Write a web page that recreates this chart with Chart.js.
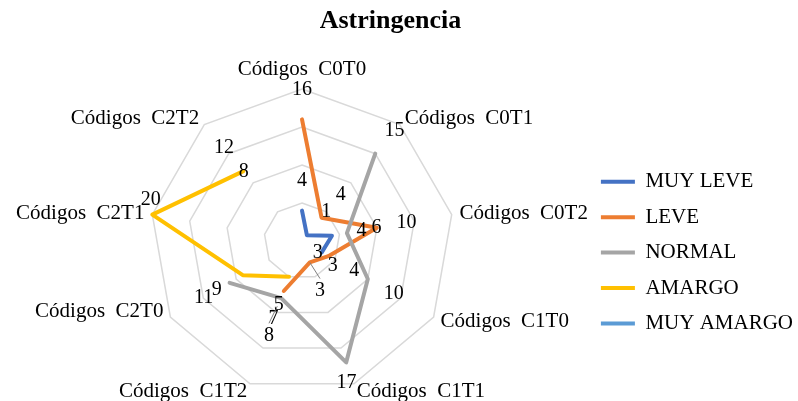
<!DOCTYPE html>
<html>
<head>
<meta charset="utf-8">
<script src="https://cdn.jsdelivr.net/npm/chart.js@4.4.1/dist/chart.umd.min.js"></script>
<style>
html,body{margin:0;padding:0;background:#ffffff;}
#wrap{width:798px;height:401px;}
</style>
</head>
<body>
<div id="wrap"><canvas id="c" width="798" height="401"></canvas></div>
<script>
// ---- data ----
const categories = ['Códigos  C0T0','Códigos  C0T1','Códigos  C0T2','Códigos  C1T0','Códigos  C1T1','Códigos  C1T2','Códigos  C2T0','Códigos  C2T1','Códigos  C2T2'];
const seriesNames = ['MUY LEVE','LEVE','NORMAL','AMARGO','MUY AMARGO'];
const muyLeve   = [4, 1, 4, 3, null, null, null, null, null];
const leve      = [16, 4, 10, 4, 3, 7, null, null, null];
const normal    = [null, 15, 6, 10, 17, 8, 11, null, null];
const amargo    = [null, null, null, 3, null, 5, 9, 20, 12];
const muyAmargo = [null, null, null, null, null, null, null, null, 8];
const scaleTicks = [0, 5, 10, 15, 20];

// ---- styles ----
const FONT = "'Liberation Serif', 'Times New Roman', serif";
const colors = ['#4472C4', '#ED7D31', '#A5A5A5', '#FFC000', '#5B9BD5'];
const seriesData = [muyLeve, leve, normal, amargo, muyAmargo];
// manual nudges for data labels that were moved in the original ("dataset:index": [dx, dy])
const labelNudges = {'3:7': [28, -10], '0:3': [-30, -15], '3:3': [-15, -2], '2:4': [-10, -8], '2:5': [-2, 9]};
const leaderLines = ['1:4', '2:5'];
const categoryNudges = {6: [0, -9.5]};
const titleShift = -20;

const titleOffset = {
  id: 'titleOffset',
  afterLayout(chart) {
    const t = chart.titleBlock;
    if (t) { t.left += titleShift; t.right += titleShift; }
  }
};

const categoryLabels = {
  id: 'categoryLabels',
  beforeDatasetsDraw(chart) {
    const ctx = chart.ctx, scale = chart.scales.r;
    ctx.save();
    ctx.font = '21px ' + FONT;
    ctx.fillStyle = '#000';
    ctx.textBaseline = 'middle';
    categories.forEach((txt, i) => {
      const p = scale.getPointPosition(i, scale.drawingArea + 8);
      const ang = scale.getIndexAngle(i) - Math.PI / 2;
      const c = Math.cos(ang), s = Math.sin(ang);
      ctx.textAlign = c > 0.1 ? 'left' : (c < -0.1 ? 'right' : 'center');
      let y = p.y;
      if (s < -0.95) y -= 12;
      const n = categoryNudges[i] || [0, 0];
      ctx.fillText(txt, p.x + n[0], y + n[1]);
    });
    ctx.restore();
  }
};

const valueLabels = {
  id: 'valueLabels',
  afterDatasetsDraw(chart) {
    const ctx = chart.ctx, scale = chart.scales.r;
    ctx.save();
    ctx.font = '20px ' + FONT;
    ctx.textAlign = 'center';
    ctx.textBaseline = 'middle';
    chart.data.datasets.forEach((ds, di) => {
      ds.data.forEach((v, i) => {
        if (v === null || v === undefined) return;
        const pt = scale.getPointPositionForValue(i, v);
        const ang = scale.getIndexAngle(i) - Math.PI / 2;
        const key = di + ':' + i;
        const n = labelNudges[key] || [0, 0];
        const lx = pt.x + 30 * Math.cos(ang) + n[0];
        const ly = pt.y + 30 * Math.sin(ang) + n[1];
        if (leaderLines.includes(key)) {
          const ex = lx, ey = ly - 12;
          const dx = ex - pt.x, dy = ey - pt.y;
          const d = Math.hypot(dx, dy);
          const L = Math.min(d, 19);
          ctx.strokeStyle = '#7F7F7F';
          ctx.lineWidth = 1;
          ctx.beginPath();
          ctx.moveTo(ex - dx / d * L, ey - dy / d * L);
          ctx.lineTo(ex, ey);
          ctx.stroke();
        }
        ctx.fillStyle = '#000';
        ctx.fillText(String(v), lx, ly);
      });
    });
    ctx.restore();
  }
};

const datasets = seriesNames.map((name, k) => ({
  label: name,
  data: seriesData[k],
  borderColor: colors[k],
  backgroundColor: colors[k],
  borderWidth: 4,
  pointRadius: 0,
  pointHoverRadius: 0,
  pointHitRadius: 0,
  borderJoinStyle: 'round',
  borderCapStyle: 'round',
  fill: false,
  spanGaps: false,
  tension: 0,
  order: seriesNames.length - k
}));

new Chart(document.getElementById('c'), {
  type: 'radar',
  data: {labels: categories, datasets: datasets},
  plugins: [titleOffset, categoryLabels, valueLabels],
  options: {
    responsive: false,
    animation: false,
    events: [],
    layout: {padding: {left: 18, right: -5, top: 0, bottom: 7}, autoPadding: false},
    scales: {
      r: {
        min: scaleTicks[0],
        max: scaleTicks[scaleTicks.length - 1],
        ticks: {display: false, stepSize: scaleTicks[1] - scaleTicks[0]},
        grid: {color: '#D9D9D9', lineWidth: 1.5},
        angleLines: {display: false},
        pointLabels: {display: false}
      }
    },
    plugins: {
      title: {
        display: true,
        text: 'Astringencia',
        color: '#000',
        font: {family: FONT, size: 26, weight: 'bold'},
        padding: {top: 6, bottom: 51}
      },
      legend: {
        position: 'right',
        align: 'center',
        fullSize: false,
        title: {display: true, text: '', font: {size: 10}, padding: {top: 0, bottom: 11}},
        labels: {
          color: '#000',
          font: {family: FONT, size: 21, lineHeight: 1.0},
          boxWidth: 34,
          boxHeight: 4,
          padding: 14.4,
          sort: (a, b) => a.datasetIndex - b.datasetIndex,
          generateLabels(chart) {
            const items = Chart.defaults.plugins.legend.labels.generateLabels(chart);
            items.forEach(it => { it.lineWidth = 0; it.fillStyle = it.strokeStyle; });
            return items;
          }
        }
      },
      tooltip: {enabled: false}
    }
  }
});
</script>
</body>
</html>
